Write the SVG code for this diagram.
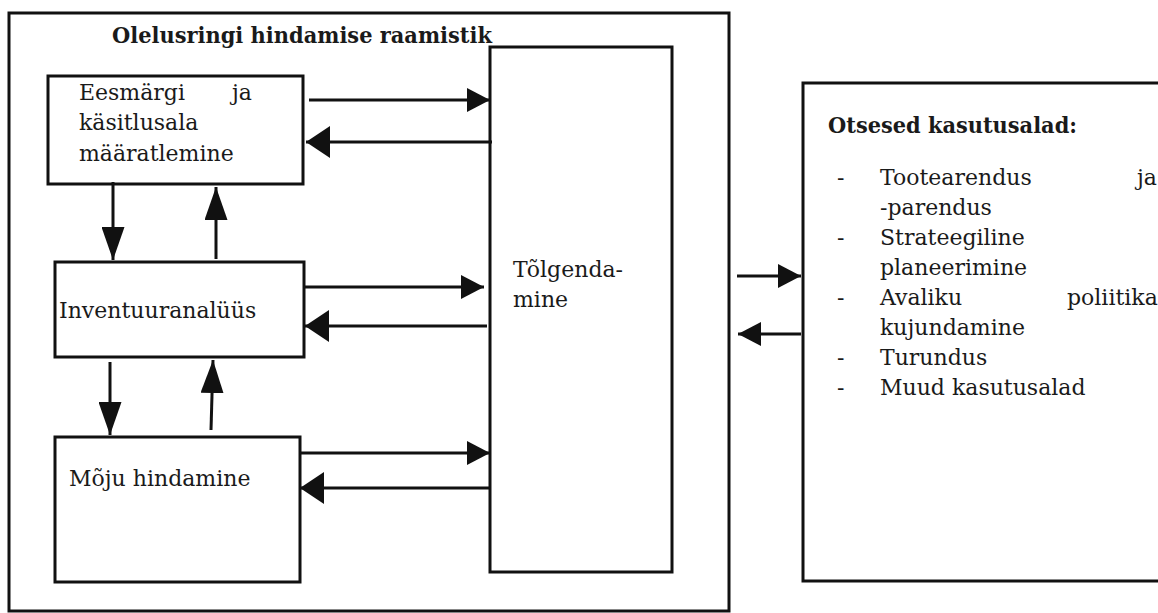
<svg xmlns="http://www.w3.org/2000/svg" width="1158" height="613" viewBox="0 0 1158 613">
<style>
  .box { fill: #fff; stroke: #111; stroke-width: 3; }
  .frame { fill: none; stroke: #111; stroke-width: 3; }
  .ln { fill: none; stroke: #111; stroke-width: 3; }
  text { font-family: "DejaVu Serif", "Liberation Serif", serif; font-size: 22px; fill: #1a1a1a; }
  .b { font-weight: bold; font-size: 22.5px; }
</style>
<defs>
  <marker id="hs" markerUnits="userSpaceOnUse" markerWidth="23" markerHeight="24" refX="23" refY="12" orient="auto">
    <path d="M0,0 L23,12 L0,24 z" fill="#111"/>
  </marker>
  <marker id="hl" markerUnits="userSpaceOnUse" markerWidth="24" markerHeight="32" refX="24" refY="16" orient="auto">
    <path d="M0,0 L24,16 L0,32 z" fill="#111"/>
  </marker>
  <marker id="hv" markerUnits="userSpaceOnUse" markerWidth="33" markerHeight="23" refX="33" refY="11.5" orient="auto">
    <path d="M0,0 L33,11.5 L0,23 z" fill="#111"/>
  </marker>
</defs>

<g id="frame">
  <rect class="frame" x="9" y="13" width="720" height="598"/>
  <text class="b" x="112" y="43" textLength="380" lengthAdjust="spacingAndGlyphs">Olelusringi hindamise raamistik</text>
</g>

<g id="node-eesmark">
  <rect class="box" x="48" y="76" width="255" height="108"/>
  <text x="79" y="100">Eesmärgi</text>
  <text x="232" y="100">ja</text>
  <text x="79" y="130">käsitlusala</text>
  <text x="79" y="161">määratlemine</text>
</g>

<g id="node-inventuur">
  <rect class="box" x="55" y="262" width="249" height="95"/>
  <text x="59" y="318">Inventuuranalüüs</text>
</g>

<g id="node-moju">
  <rect class="box" x="55" y="437" width="245" height="145"/>
  <text x="69" y="486">Mõju hindamine</text>
</g>

<g id="node-tolgendamine">
  <rect class="box" x="490" y="47" width="182" height="525"/>
  <text x="513" y="277">Tõlgenda-</text>
  <text x="513" y="307">mine</text>
</g>

<g id="node-kasutusalad">
  <rect class="box" x="803" y="83" width="370" height="498"/>
  <text class="b" x="828" y="133" textLength="249" lengthAdjust="spacingAndGlyphs">Otsesed kasutusalad:</text>
  <text x="837" y="185">-</text>
  <text x="880" y="185">Tootearendus</text>
  <text x="1137" y="185">ja</text>
  <text x="880" y="215">-parendus</text>
  <text x="837" y="245">-</text>
  <text x="880" y="245">Strateegiline</text>
  <text x="880" y="275">planeerimine</text>
  <text x="837" y="305">-</text>
  <text x="880" y="305">Avaliku</text>
  <text x="1067" y="305">poliitika</text>
  <text x="880" y="335">kujundamine</text>
  <text x="837" y="365">-</text>
  <text x="880" y="365">Turundus</text>
  <text x="837" y="395">-</text>
  <text x="880" y="395">Muud kasutusalad</text>
</g>

<g id="connectors">
  <line class="ln" x1="309" y1="100" x2="490" y2="100" marker-end="url(#hs)"/>
  <line class="ln" x1="492" y1="142" x2="306" y2="142" marker-end="url(#hl)"/>
  <line class="ln" x1="113" y1="182" x2="113" y2="260" marker-end="url(#hv)"/>
  <line class="ln" x1="216" y1="259" x2="216" y2="187" marker-end="url(#hv)"/>
  <line class="ln" x1="304" y1="287" x2="484" y2="287" marker-end="url(#hs)"/>
  <line class="ln" x1="487" y1="326" x2="305" y2="326" marker-end="url(#hl)"/>
  <line class="ln" x1="110" y1="362" x2="110" y2="435" marker-end="url(#hv)"/>
  <line class="ln" x1="211" y1="430" x2="213" y2="360" marker-end="url(#hv)"/>
  <line class="ln" x1="300" y1="453" x2="490" y2="453" marker-end="url(#hs)"/>
  <line class="ln" x1="490" y1="488" x2="300" y2="488" marker-end="url(#hl)"/>
  <line class="ln" x1="737" y1="276" x2="801" y2="276" marker-end="url(#hs)"/>
  <line class="ln" x1="801" y1="334" x2="738" y2="334" marker-end="url(#hs)"/>
</g>
</svg>
